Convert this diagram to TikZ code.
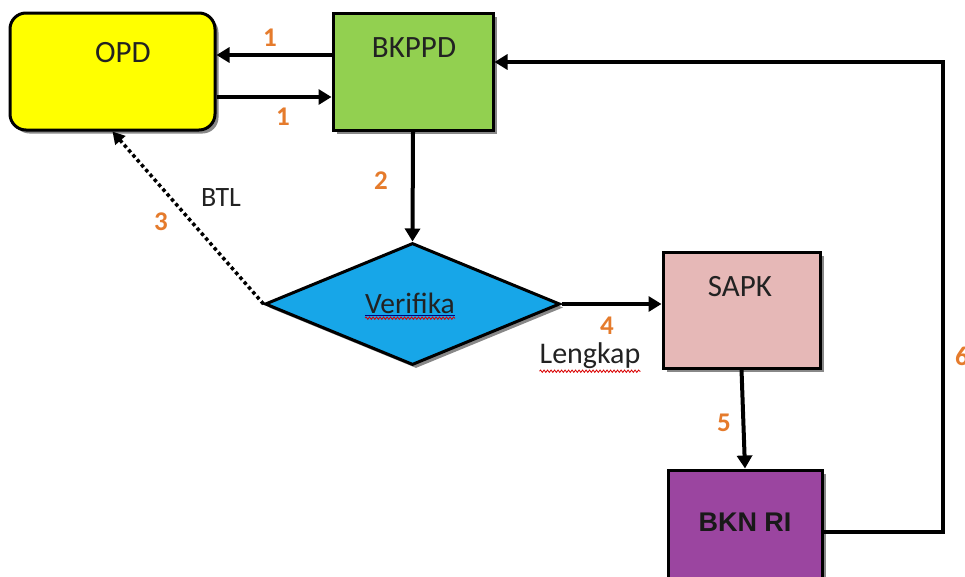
\documentclass[tikz,border=0pt]{standalone}
\usepackage{fontspec}
\setmainfont{Carlito}
\newfontfamily\arialfont{Liberation Sans}
\usetikzlibrary{shapes.geometric,arrows.meta,shadows,decorations.pathmorphing}
\definecolor{opdyellow}{HTML}{FFFF00}
\definecolor{bkgreen}{HTML}{92D050}
\definecolor{verblue}{HTML}{17A6E8}
\definecolor{sapkpink}{HTML}{E6B8B7}
\definecolor{bknpurple}{HTML}{9B45A0}
\definecolor{numorange}{HTML}{E57B2C}
\definecolor{txtdark}{HTML}{222222}
\begin{document}
\begin{tikzpicture}[x=1pt,y=-1pt,
  box/.style={draw=black, line width=3pt, inner sep=0pt,
    drop shadow={shadow xshift=3.5pt, shadow yshift=-3.5pt, fill=black!55, opacity=0.85}},
  arr/.style={line width=4pt, -{Triangle[length=13pt,width=15pt]}},
  num/.style={text=numorange, inner sep=0pt, font=\fontsize{27}{29}\selectfont\bfseries},
  lbl/.style={text=txtdark, inner sep=0pt, font=\fontsize{31}{33}\selectfont},
  wavy/.style={draw=red!85!black, line width=0.8pt, decorate,
    decoration={snake, amplitude=1.2pt, segment length=3.5pt}},
]
\useasboundingbox (0,0) rectangle (965,576);
% boxes
\node[box, rounded corners=16pt, fill=opdyellow, minimum width=205pt, minimum height=117pt] (opd) at (112.5,71.5) {};
\node[box, fill=bkgreen, minimum width=160pt, minimum height=117pt] (bkppd) at (413,71.5) {};
\node[box, diamond, fill=verblue, minimum width=295pt, minimum height=122pt] (ver) at (412.5,304) {};
\node[box, fill=sapkpink, minimum width=157pt, minimum height=116pt] (sapk) at (741.5,310) {};
\node[box, fill=bknpurple, minimum width=154pt, minimum height=124pt] (bkn) at (745,532) {};
% box texts
\node[lbl] (opdt) at (123,53) {OPD};
\node[lbl] (bkppdt) at (414,48) {BKPPD};
\node[lbl, font=\fontsize{29.5}{31}\selectfont] (vert) at (410,303) {Verifika};
\node[lbl] (sapkt) at (740,287) {SAPK};
\node[text=black!90, inner sep=0pt, font=\fontsize{27}{29}\arialfont\bfseries] (bknt) at (745,522) {BKN RI};
% connectors
\draw[arr] ([yshift=16.5pt]bkppd.west) -- ([yshift=16.5pt]opd.east);
\draw[arr] ([yshift=-25.5pt]opd.east) -- ([yshift=-25.5pt]bkppd.west);
\draw[arr] (bkppd.south) -- (ver.north);
\draw[line width=3.5pt, dash pattern=on 3.5pt off 3pt, -{Triangle[length=12pt,width=13pt]}] (ver.west) -- (opd.south);
\draw[arr] (ver.east) -- (sapk.west |- ver.east);
\draw[arr] (sapk.south) -- (bkn.north);
\coordinate (rt) at (943,62);
\draw[arr] (bkn.east) -| (rt) -- ([yshift=9.5pt]bkppd.east);
% labels
\node[num] (n1a) at (270,38) {1};
\node[num] (n1b) at (283,117) {1};
\node[num] (n2) at (381,181) {2};
\node[num] (n3) at (161,222) {3};
\node[lbl, font=\fontsize{28}{30}\selectfont] (btl) at (221,198) {BTL};
\node[num] (n4) at (607,326) {4};
\node[lbl, font=\fontsize{30}{32}\selectfont] (lgk) at (590,356) {Lengkap};
\node[num] (n5) at (724,423) {5};
\node[num] (n6) at (962,356) {6};
% spell-check marks
\draw[blue!50!black, line width=0.8pt] ([yshift=-2.5pt]vert.base west) -- ([yshift=-2.5pt]vert.base east);
\draw[wavy] ([yshift=-5pt]vert.base west) -- ([yshift=-5pt]vert.base east);
\draw[wavy] ([yshift=-2pt]lgk.south west) -- ([yshift=-2pt]lgk.south east);
\end{tikzpicture}
\end{document}
